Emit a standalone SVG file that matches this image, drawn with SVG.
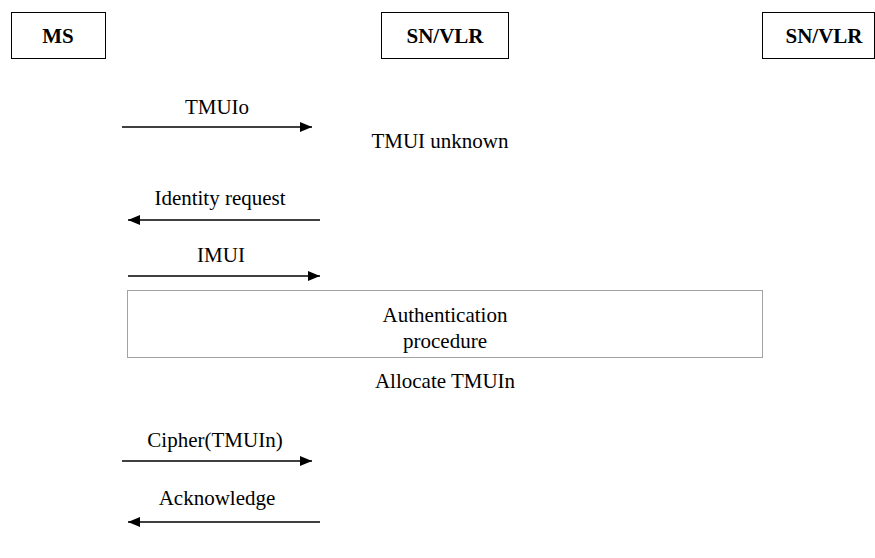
<svg xmlns="http://www.w3.org/2000/svg" width="875" height="558" viewBox="0 0 875 558">
<style>
text{font-family:"Liberation Serif","Times New Roman",serif;font-size:21px;fill:#000;text-anchor:middle}
.b{font-weight:bold}
.box{fill:#fff;stroke:#000;stroke-width:1}
.msg{stroke:#000;stroke-width:1.3;fill:none}
.dot{fill:none;stroke:#444;stroke-width:1;stroke-dasharray:1 1}
</style>
<defs>
<marker id="ah" viewBox="0 0 12 10" refX="12" refY="5" markerWidth="12" markerHeight="10" markerUnits="userSpaceOnUse" orient="auto">
<path d="M0,0 L12,5 L0,10 Z" fill="#000"/>
</marker>
</defs>
<g id="ms"><rect class="box" x="11.5" y="12.5" width="94" height="46"/><text class="b" x="58" y="43">MS</text></g>
<g id="snvlr1"><rect class="box" x="381.5" y="12.5" width="127" height="46"/><text class="b" x="445" y="43">SN/VLR</text></g>
<g id="snvlr2"><rect class="box" x="762.5" y="12.5" width="112" height="46"/><text class="b" x="824" y="43">SN/VLR</text></g>
<g id="auth"><rect class="dot" x="127.5" y="290.5" width="635" height="67"/><text x="445" y="322">Authentication</text><text x="445" y="348">procedure</text></g>
<g id="notes"><text x="440" y="148">TMUI unknown</text><text x="445" y="388">Allocate TMUIn</text></g>
<g id="connectors">
<line class="msg" x1="122" y1="127" x2="312" y2="127" marker-end="url(#ah)"/>
<text x="217" y="114">TMUIo</text>
<line class="msg" x1="320" y1="220" x2="128" y2="220" marker-end="url(#ah)"/>
<text x="220" y="205">Identity request</text>
<line class="msg" x1="128" y1="276" x2="320" y2="276" marker-end="url(#ah)"/>
<text x="221" y="262">IMUI</text>
<line class="msg" x1="122" y1="461" x2="312" y2="461" marker-end="url(#ah)"/>
<text x="215" y="447">Cipher(TMUIn)</text>
<line class="msg" x1="320" y1="522" x2="128" y2="522" marker-end="url(#ah)"/>
<text x="217" y="505">Acknowledge</text>
</g>
</svg>
